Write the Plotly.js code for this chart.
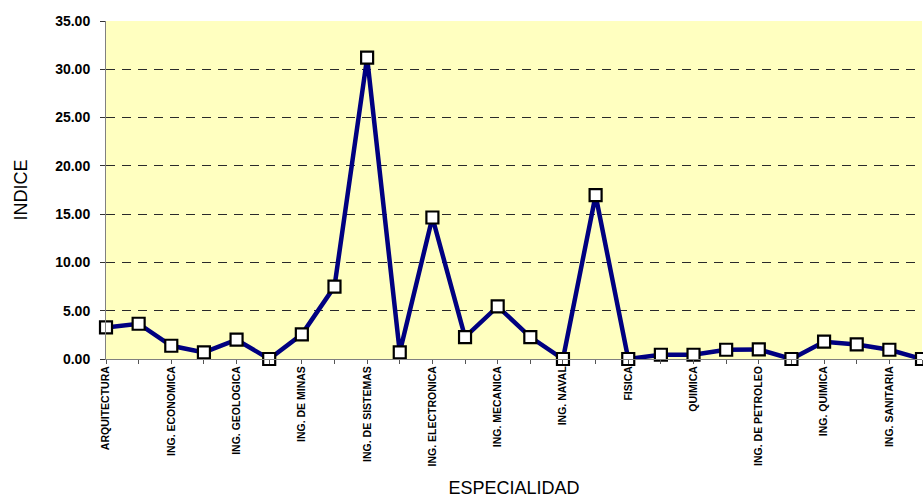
<!DOCTYPE html>
<html>
<head>
<meta charset="utf-8">
<script src="https://cdn.plot.ly/plotly-3.0.1.min.js"></script>
<style>html,body{margin:0;padding:0;background:#fff;}#chart{width:923px;height:498px;}</style>
</head>
<body>
<div id="chart"></div>
<script>
// Category positions (index) and tick labels (only every other category is labelled in the original)
const categoryIndex = [0,1,2,3,4,5,6,7,8,9,10,11,12,13,14,15,16,17,18,19,20,21,22,23,24,25];
const tickLabels = [
  "ARQUITECTURA", "", "ING. ECONOMICA", "", "ING. GEOLOGICA", "", "ING. DE MINAS", "",
  "ING. DE SISTEMAS", "", "ING. ELECTRONICA", "", "ING. MECANICA", "", "ING. NAVAL", "",
  "FISICA", "", "QUIMICA", "", "ING. DE PETROLEO", "", "ING. QUIMICA", "", "ING. SANITARIA", ""
];
const indiceValues = [
  3.27, 3.65, 1.37, 0.69, 2.00, 0.00, 2.55, 7.50, 31.20, 0.69,
  14.65, 2.27, 5.44, 2.27, 0.00, 16.96, 0.00, 0.44, 0.44, 0.96,
  0.99, 0.00, 1.79, 1.51, 0.96, 0.00
];
const yTickVals = [0, 5, 10, 15, 20, 25, 30, 35];
const yTickText = ["0.00", "5.00", "10.00", "15.00", "20.00", "25.00", "30.00", "35.00"];

const trace = {
  x: categoryIndex,
  y: indiceValues,
  type: "scatter",
  mode: "lines+markers",
  line: {color: "#000080", width: 4.5},
  marker: {symbol: "square", size: 12, color: "#ffffff", line: {color: "#000000", width: 2.2}},
  cliponaxis: false,
  hoverinfo: "x+y"
};

const layout = {
  width: 923,
  height: 498,
  margin: {l: 106, r: 1, t: 21, b: 139},
  paper_bgcolor: "#ffffff",
  plot_bgcolor: "#FFFFC0",
  showlegend: false,
  font: {family: "Liberation Sans, Arial, sans-serif", color: "#000000"},
  xaxis: {
    range: [0, 25],
    tickmode: "array",
    tickvals: categoryIndex,
    ticktext: tickLabels,
    tickangle: -90,
    ticks: "outside",
    ticklen: 4,
    tickcolor: "#555555",
    tickfont: {size: 10.5, family: "Liberation Sans, Arial, sans-serif", weight: "bold"},
    showgrid: false,
    zeroline: false,
    showline: true,
    linecolor: "#808080",
    linewidth: 1,
    ticklabelstandoff: -2,
    title: {text: "ESPECIALIDAD", font: {size: 18, family: "Liberation Sans, Arial, sans-serif"}, standoff: 24}
  },
  yaxis: {
    range: [0, 35],
    tickmode: "array",
    tickvals: yTickVals,
    ticktext: yTickText,
    ticks: "outside",
    ticklen: 5,
    tickcolor: "#333333",
    tickfont: {size: 14, family: "Liberation Sans, Arial, sans-serif", weight: "bold"},
    showgrid: true,
    gridcolor: "#2a2a2a",
    gridwidth: 1,
    griddash: "9px,7px",
    zeroline: false,
    showline: true,
    linecolor: "#808080",
    linewidth: 1,
    ticklabelstandoff: 7,
    title: {text: "INDICE", font: {size: 18, family: "Liberation Sans, Arial, sans-serif"}, standoff: 22}
  }
};

Plotly.newPlot("chart", [trace], layout, {displayModeBar: false, staticPlot: true});
</script>
</body>
</html>
